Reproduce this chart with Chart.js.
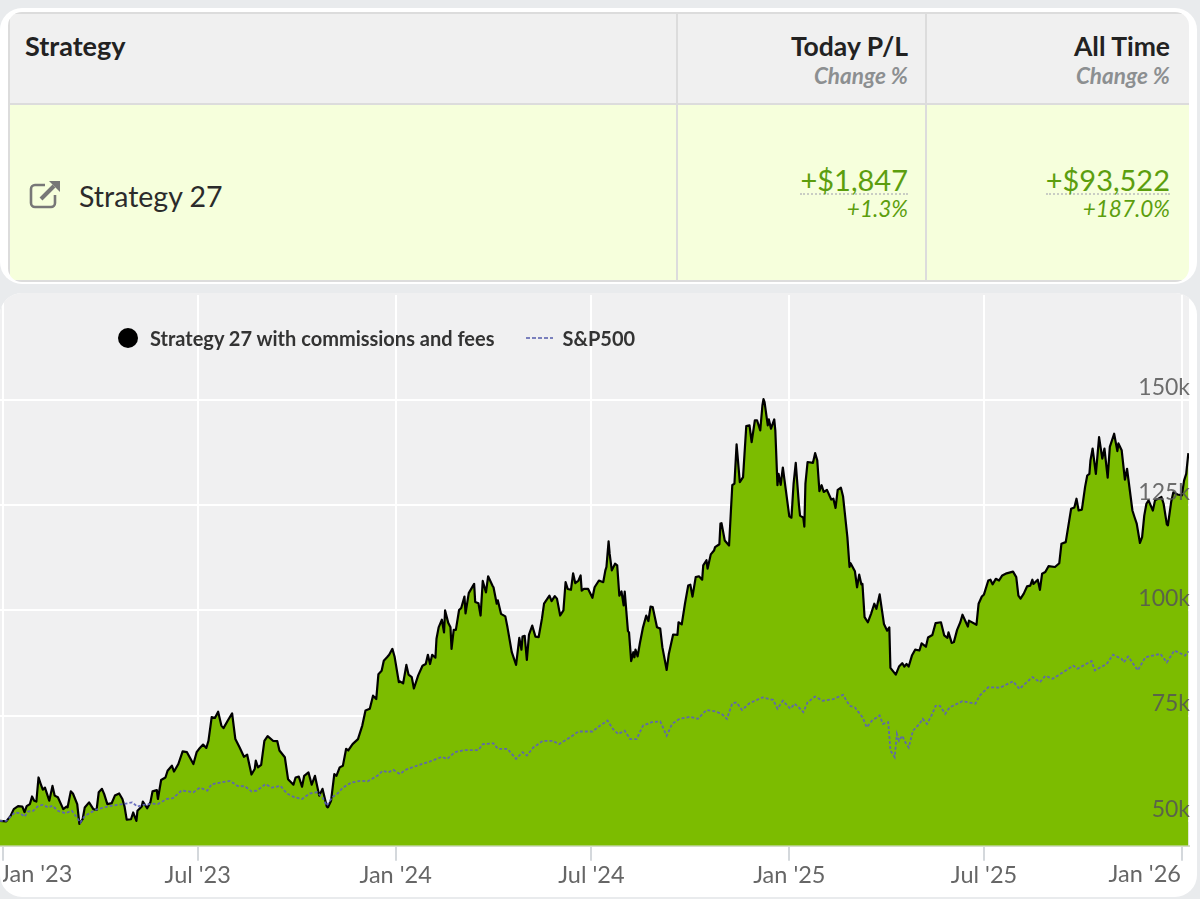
<!DOCTYPE html>
<html>
<head>
<meta charset="utf-8">
<title>Strategy 27</title>
<script src="https://cdn.jsdelivr.net/npm/chart.js@4/dist/chart.umd.min.js"></script>
<style>
  html, body { margin: 0; padding: 0; width: 1200px; height: 899px; overflow: hidden; background: #e9ebed; font-family: Lato, sans-serif; }
  .card { position: absolute; left: 0; width: 1197px; background: #fff; border-radius: 22px; overflow: hidden; }
  #tableCard { top: 8px; height: 276px; }
  #chartCard { top: 293px; height: 604px; }
  #tableClip { position: absolute; left: 8px; top: 4px; width: 1181px; height: 270px; border-radius: 14px; overflow: hidden; }
  table { width: 1181px; height: 270px; border-collapse: collapse; table-layout: fixed; }
  th, td { border: 2px solid #dcdcdc; padding: 0 18px 0 0; text-align: right; }
  th:nth-child(2), td:nth-child(2) { padding-right: 17px; }
  th:nth-child(3), td:nth-child(3) { padding-right: 19px; }
  th { height: 91px; background: #f0f0f0; vertical-align: top; color: #222; font-size: 26.5px; font-weight: 700; line-height: 30px; padding-top: 17px; box-sizing: border-box; }
  th small { display: block; font-size: 22.5px; line-height: 29px; font-style: italic; color: #8c8f91; }
  td { background: #f6ffdc; color: #5c9e0e; font-size: 29px; line-height: 29px; padding-top: 3px; }
  tr > :first-child { text-align: left; }
  th:first-child { padding-left: 15px; font-size: 27px; }
  td .amount { display: inline-block; border-bottom: 2px dotted #c9cdc4; line-height: 26px; }
  td small { display: block; font-size: 22.5px; line-height: 28px; font-style: italic; }
  td.name { color: #2b2b2b; position: relative; padding-left: 69px; padding-top: 8px; font-size: 28.5px; }
  td.name svg { position: absolute; left: 19px; top: 74px; }
  canvas { display: block; }
  #legend { position: absolute; left: 118px; top: 32px; height: 26px; display: flex; align-items: center; font-size: 20px; font-weight: 700; color: #333; }
  #legend .dot { width: 20px; height: 20px; border-radius: 50%; background: #000; margin-right: 12px; }
  #legend .dash { width: 27px; height: 2px; margin: 0 9px 0 32px; background: repeating-linear-gradient(to right, #7a80bd 0 4px, transparent 4px 6px); }
</style>
</head>
<body>
<div class="card" id="tableCard">
  <div id="tableClip">
  <table>
    <colgroup><col style="width:668px"><col style="width:249px"><col style="width:264px"></colgroup>
    <tr>
      <th>Strategy</th>
      <th>Today P/L<small>Change %</small></th>
      <th>All Time<small>Change %</small></th>
    </tr>
    <tr>
      <td class="name">
        <svg width="32" height="30" viewBox="0 0 32 30" fill="none" stroke="#777" stroke-width="2.6">
          <path d="M16 6H6a4 4 0 0 0-4 4v14a4 4 0 0 0 4 4h16a4 4 0 0 0 4-4v-8"/>
          <path d="M12 20L25 7" stroke-width="4"/>
          <path d="M20 2h11v11z" fill="#777" stroke="none"/>
        </svg>
        Strategy 27
      </td>
      <td><span class="amount">+$1,847</span><small>+1.3%</small></td>
      <td><span class="amount">+$93,522</span><small>+187.0%</small></td>
    </tr>
  </table>
  </div>
</div>
<div class="card" id="chartCard">
  <canvas id="equityChart"></canvas>
  <div id="legend">
    <span class="dot"></span><span id="legendStrategy"></span>
    <span class="dash"></span><span id="legendBenchmark"></span>
  </div>
</div>
<script>
const strategyName = 'Strategy 27 with commissions and fees';
const benchmarkName = 'S&P500';

// days counted from 1 Jan 2023, values in thousands of dollars
const tickDays = [0, 181, 365, 547, 731, 912, 1096];
const tickLabels = ["Jan '23", "Jul '23", "Jan '24", "Jul '24", "Jan '25", "Jul '25", "Jan '26"];
const yTicks = [50, 75, 100, 125, 150];

const strategyDays = [-3,3,7,10,14,18,20,22,25,27,29,31,33,35,37,39,43,46,48,51,56,59,60,63,65,69,71,74,76,80,84,87,89,92,94,97,101,104,108,111,113,115,119,121,124,125,129,130,134,137,139,143,144,147,151,153,157,159,163,167,171,177,180,183,
  186,189,191,194,197,200,203,205,209,213,216,220,224,227,231,234,235,237,240,243,246,251,255,257,262,265,270,272,275,278,280,284,287,290,294,297,301,302,305,308,310,313,316,319,321,325,330,334,337,341,344,347,349,352,354,357,359,362,364,368,
  369,372,375,377,380,382,386,390,393,395,397,399,402,403,405,408,410,411,414,416,417,419,421,424,426,429,430,433,438,439,442,444,446,449,451,455,456,459,460,463,467,469,473,477,480,482,483,485,487,489,492,495,498,501,503,508,510,513,515,518,521,523,525,528,530,532,535,537,538,540,544,548,550,554,
  558,560,561,563,564,566,569,571,573,575,577,578,581,582,584,586,587,588,590,592,595,598,600,602,604,608,611,613,617,619,623,627,628,631,634,637,639,641,644,647,650,651,654,655,658,661,662,666,667,668,671,675,678,680,682,683,685,688,691,694,696,699,701,704,706,707,708,711,712,714,717,718,720,721,723,725,728,731,733,735,737,740,
  741,744,745,746,748,753,755,757,759,761,763,766,770,772,774,776,779,781,785,787,788,792,794,796,798,799,801,804,807,810,812,815,819,822,824,825,830,833,836,838,840,842,845,848,852,854,858,860,864,867,872,875,878,879,882,884,887,890,892,897,898,905,907,910,912,916,918,920,923,926,
  929,933,939,942,944,946,949,952,955,957,958,962,964,966,969,972,978,982,984,988,993,996,998,1000,1003,1006,1008,1010,1011,1013,1016,1019,1022,1024,1027,1029,1033,1036,1037,1040,1043,1045,1050,1052,1054,1057,1059,1061,1063,1065,1069,1071,1077,1079,1082,1083,1086,1088,1092,1096,1098,1100,1102];
const strategyValues = [50.1,50.0,51.3,52.9,53.6,53.5,52.2,53.6,54.1,55.9,54.9,54.7,60.4,58.9,57.5,58.0,54.9,58.4,56.1,55.7,52.9,53.5,53.3,57.1,56.6,54.1,49.4,50.5,53.3,54.5,52.9,52.7,56.9,57.7,56.5,54.1,54.3,56.1,56.6,55.3,53.5,50.4,50.5,52.1,50.1,52.5,53.5,54.7,53.1,54.5,57.1,57.4,55.3,59.8,60.4,62.0,63.2,61.8,63.6,66.6,66.4,63.6,66.4,67.4,
  68.2,67.4,69.1,74.7,74.5,76.0,72.7,72.1,73.9,75.6,69.5,67.5,65.3,65.8,61.1,62.4,64.4,62.8,63.4,69.1,70.2,69.1,69.0,66.8,65.2,60.0,58.7,60.4,60.6,58.2,60.8,61.6,58.7,60.8,56.1,57.7,53.5,53.3,54.9,61.2,60.8,62.8,63.2,67.2,66.8,68.3,69.5,72.7,76.3,76.7,79.8,79.0,84.9,85.7,88.1,88.9,89.5,90.9,89.1,83.0,
  83.2,82.7,87.1,84.8,84.2,81.5,84.6,86.9,87.3,89.5,87.3,89.5,88.8,93.3,96.0,97.8,94.8,100.0,97.0,96.0,90.9,95.4,95.4,100.1,100.6,103.3,99.3,104.1,106.3,102.0,101.7,98.8,107.0,104.3,108.1,105.9,105.5,101.6,102.4,99.2,98.6,96.0,90.1,87.1,93.5,90.7,93.8,94.0,88.3,94.3,96.4,93.8,93.7,98.0,101.6,103.5,102.2,103.4,102.8,98.8,100.0,106.7,105.1,104.9,108.8,106.5,107.1,108.3,104.7,105.1,105.1,103.0,105.5,107.1,
  106.7,109.5,110.3,116.4,113.4,109.5,111.1,110.7,103.5,104.5,101.2,104.5,95.1,94.8,88.0,90.1,88.9,90.7,89.1,92.1,96.0,98.8,97.5,100.9,100.8,96.0,95.7,91.3,85.9,89.7,94.3,94.2,97.2,96.7,101.6,105.9,106.1,103.3,107.9,108.1,107.3,110.7,111.9,109.9,113.3,114.2,115.0,115.7,120.6,120.7,116.6,115.4,129.7,130.1,139.4,136.4,130.4,131.6,143.7,143.9,139.9,145.1,145.1,142.7,148.6,150.1,149.4,143.9,145.3,143.1,145.3,142.7,129.7,132.4,129.8,133.9,128.1,122.3,122.0,130.1,135.0,124.9,
  122.5,122.0,119.9,130.1,135.2,135.0,137.3,135.6,128.3,129.7,128.1,128.6,126.3,126.5,124.3,128.6,129.1,127.0,117.4,110.3,111.2,109.3,105.5,108.5,106.2,106.3,98.4,97.2,99.2,101.6,100.4,103.8,96.8,95.2,96.0,86.4,84.8,86.7,87.5,86.7,87.3,86.7,89.3,90.7,90.5,92.2,91.4,93.6,94.2,97.0,97.2,94.1,93.5,94.8,92.3,92.5,95.4,97.2,99.0,96.2,97.6,96.6,101.6,103.3,103.8,107.1,107.3,106.2,107.5,107.1,
  108.3,108.8,109.2,107.9,103.5,102.8,104.0,105.7,105.9,107.3,106.3,107.3,104.9,108.7,109.1,110.5,110.3,111.2,115.8,116.2,124.1,124.4,126.5,123.7,123.9,129.3,132.0,132.4,135.6,138.4,132.4,141.1,136.0,138.4,131.5,138.8,141.9,137.8,139.6,138.0,131.0,133.6,123.7,122.1,120.6,116.0,117.4,122.5,125.3,126.1,123.7,126.1,126.9,125.3,120.4,120.2,125.7,128.0,127.5,127.3,130.8,132.4,137.3];

const benchmarkDays = [-3,3,7,11,16,20,23,28,33,37,42,46,51,58,64,69,72,76,83,88,97,106,112,120,125,130,139,144,152,158,166,172,177,183,190,194,202,211,218,225,231,236,244,250,258,264,271,278,285,292,297,301,306,311,316,324,332,339,348,353,358,363,369,374,385,397,408,413,420,429,442,446,456,460,469,477,483,487,493,502,511,517,527,535,548,554,562,567,572,578,583,589,595,603,611,617,622,629,639,646,654,662,668,673,678,682,687,694,706,716,720,725,732,736,741,744,748,755,762,772,781,787,792,799,803,808,815,818,823,825,829,831,833,836,839,842,846,852,855,859,864,867,871,876,880,892,904,908,916,927,939,945,957,964,969,976,995,999,1012,1015,1026,1032,1040,1042,1046,1055,1062,1076,1082,1089,1099,1102];
const benchmarkValues = [50.1,50.1,51.1,52.1,51.9,51.1,52.3,52.5,53.7,53.9,53.3,53.7,52.5,51.9,52.5,50.8,49.7,51.3,52.3,52.9,53.5,53.9,54.1,54.5,53.5,53.9,54.2,54.1,55.3,55.5,57.3,57.1,56.9,58.0,57.3,58.8,59.2,59.6,58.4,58.3,57.1,57.3,58.8,58.0,58.4,56.6,55.7,55.3,56.6,56.9,55.7,53.7,55.7,56.6,58.0,59.2,59.6,59.5,60.8,62.0,61.6,62.2,61.2,62.2,63.2,64.2,65.3,64.8,66.4,66.9,66.9,68.3,68.5,67.2,67.2,64.8,66.4,65.6,67.5,69.1,69.1,68.3,69.9,71.3,71.3,72.5,73.9,71.9,70.7,71.5,69.5,69.5,72.7,73.5,73.7,70.3,73.1,74.3,74.8,74.3,76.4,76.1,75.5,74.3,78.0,78.2,76.4,78.0,79.4,78.8,76.7,78.6,76.7,77.9,76.7,75.9,78.2,79.6,78.6,79.0,80.0,77.4,77.0,74.7,72.3,73.9,75.1,73.1,73.5,66.8,65.2,70.7,69.1,70.3,68.7,67.5,71.5,73.1,74.3,73.1,75.5,77.4,77.4,75.5,77.0,78.5,77.9,79.8,81.8,81.7,83.2,81.4,84.2,83.0,84.5,83.8,86.9,86.2,88.0,85.8,87.3,89.5,88.5,87.7,89.1,85.8,88.9,89.7,87.7,90.5,89.3,90.3];

const toPoints = (days, values) => days.map((d, i) => ({ x: d, y: values[i] }));

document.getElementById('legendStrategy').textContent = strategyName;
document.getElementById('legendBenchmark').textContent = benchmarkName;

// grey plot area behind the grid
const plotBackground = {
  id: 'plotBackground',
  beforeDraw(chart) {
    const { ctx, chartArea: a } = chart;
    ctx.save();
    ctx.fillStyle = '#f0f0f1';
    ctx.fillRect(a.left, 0, a.width, a.bottom);
    ctx.restore();
  }
};

// first and last x labels sit inside the plot, not centred on their tick
const edgeLabels = {
  id: 'edgeLabels',
  afterDraw(chart) {
    const { ctx } = chart;
    const x = chart.scales.x;
    const y = x.top + 29;
    ctx.save();
    ctx.font = '23.5px Lato, sans-serif';
    ctx.fillStyle = '#666';
    ctx.textBaseline = 'middle';
    ctx.beginPath();
    ctx.rect(3, x.top, chart.width, x.height);
    ctx.clip();
    ctx.textAlign = 'left';
    ctx.fillText(tickLabels[0], x.getPixelForValue(tickDays[0]) - 3, y);
    ctx.textAlign = 'right';
    ctx.fillText(tickLabels[tickLabels.length - 1], x.getPixelForValue(tickDays[tickDays.length - 1]) - 1, y);
    ctx.restore();
  }
};

new Chart(document.getElementById('equityChart'), {
  type: 'line',
  data: {
    datasets: [
      {
        label: benchmarkName,
        data: toPoints(benchmarkDays, benchmarkValues),
        borderColor: 'rgba(92,96,185,0.9)',
        borderWidth: 1.8,
        borderDash: [3, 2],
        pointRadius: 0,
        fill: false
      },
      {
        label: strategyName,
        data: toPoints(strategyDays, strategyValues),
        borderColor: '#000',
        borderWidth: 2.2,
        borderJoinStyle: 'round',
        backgroundColor: '#7cbc00',
        pointRadius: 0,
        fill: 'start'
      }
    ]
  },
  options: {
    responsive: true,
    maintainAspectRatio: false,
    animation: false,
    layout: { padding: { left: 0, right: 6, top: 2, bottom: 6 } },
    plugins: {
      legend: { display: false },
      tooltip: { enabled: false }
    },
    scales: {
      x: {
        type: 'linear',
        min: -2.8,
        max: 1102.6,
        afterBuildTicks: (scale) => { scale.ticks = tickDays.map(v => ({ value: v })); },
        grid: { color: '#fff', lineWidth: 2, tickColor: '#d4d8dc', tickLength: 15, tickWidth: 2 },
        border: { color: '#d4dcc8', width: 2 },
        ticks: {
          autoSkip: false,
          maxRotation: 0,
          padding: 1,
          color: '#666',
          font: { family: 'Lato, sans-serif', size: 23.5 },
          callback: (v) => {
            const i = tickDays.indexOf(v);
            return (i <= 0 || i === tickDays.length - 1) ? '' : tickLabels[i];
          }
        }
      },
      y: {
        position: 'right',
        min: 44.2,
        max: 174.8,
        afterBuildTicks: (scale) => { scale.ticks = yTicks.map(v => ({ value: v })); },
        // mirrored labels should not push the plot down from the card edge
        afterFit: (scale) => { scale.paddingTop = 0; scale.paddingBottom = 0; },
        grid: { color: '#fff', lineWidth: 2, drawTicks: false },
        border: { display: false },
        ticks: {
          mirror: true,
          padding: 1,
          labelOffset: -12,
          z: 1,
          color: 'rgba(85,85,85,0.85)',
          font: { family: 'Lato, sans-serif', size: 23 },
          callback: (v) => v + 'k'
        }
      }
    }
  },
  plugins: [plotBackground, edgeLabels]
});
</script>
</body>
</html>
